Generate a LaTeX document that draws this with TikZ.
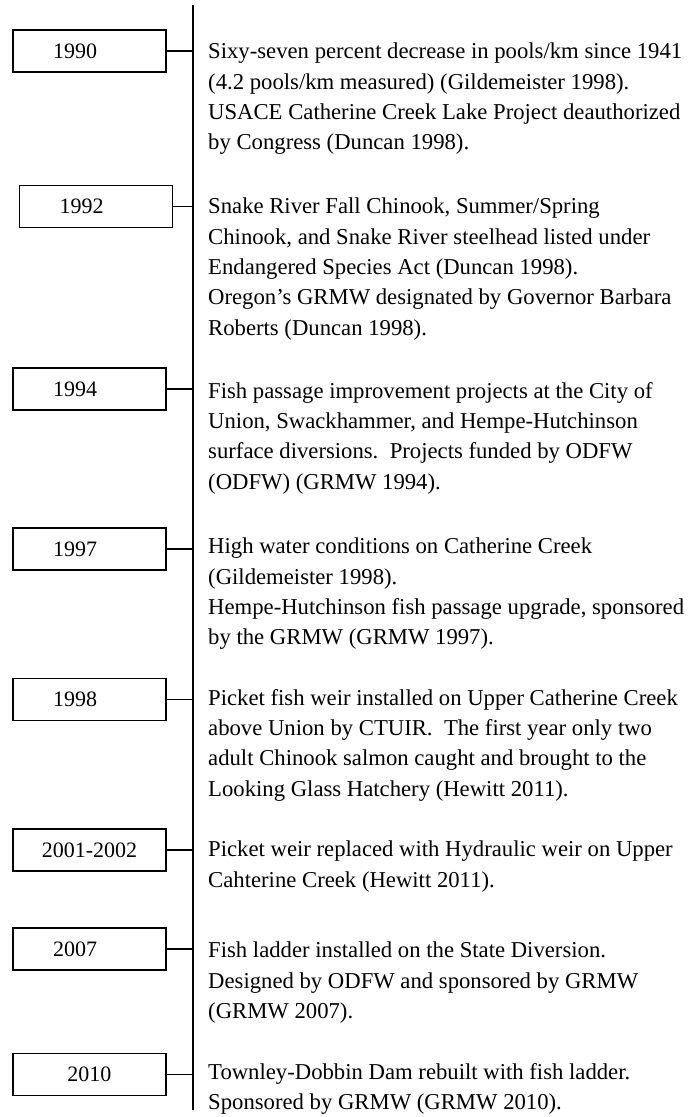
\documentclass[tikz,border=0pt]{standalone}
\usepackage{fontspec}
\setmainfont{Liberation Serif}
\tikzset{
  yearbox/.style={draw, line width=1.4pt, minimum height=42pt, text width=73pt,
    inner xsep=40pt, inner ysep=0pt, align=left, font=\fontsize{22}{24}\selectfont},
  widebox/.style={yearbox, text width=133pt, inner xsep=10pt, align=center},
  event/.style={anchor=north west, inner sep=0pt, align=left,
    font=\fontsize{22.7}{30.3}\selectfont},
  tick/.style={line width=1.4pt}
}

\begin{document}
\begin{tikzpicture}[x=1pt, y=-1pt]
\useasboundingbox (0,0) rectangle (694,1117);
\coordinate (top) at (193,5);
\coordinate (bot) at (193,1110);
\draw[tick] (top) -- (bot);

\node[yearbox] (y1990) at (89.5,51) {1990};
\node[yearbox] (y1992) at (96,206.5) {1992};
\node[yearbox] (y1994) at (89.5,389) {1994};
\node[yearbox] (y1997) at (89.5,549) {1997};
\node[yearbox] (y1998) at (89.5,699.5) {1998};
\node[widebox] (y2001) at (89.5,850) {2001-2002};
\node[yearbox] (y2007) at (89.5,949) {2007};
\node[widebox] (y2010) at (89.5,1074.5) {2010};

\draw[tick] (y1990.east) -- (y1990.east -| top);
\draw[tick] (y1992.east) -- (y1992.east -| top);
\draw[tick] (y1994.east) -- (y1994.east -| top);
\draw[tick] (y1997.east) -- (y1997.east -| top);
\draw[tick] (y1998.east) -- (y1998.east -| top);
\draw[tick] (y2001.east) -- (y2001.east -| top);
\draw[tick] (y2007.east) -- (y2007.east -| top);
\draw[tick] (y2010.east) -- (y2010.east -| top);

\node[event] (e1990) at (208,43) {Sixy-seven percent decrease in pools/km since 1941\\
(4.2 pools/km measured) (Gildemeister 1998).\\
USACE Catherine Creek Lake Project deauthorized\\
by Congress (Duncan 1998).};
\node[event] (e1992) at (208,198) {Snake River Fall Chinook, Summer/Spring\\
Chinook, and Snake River steelhead listed under\\
Endangered Species Act (Duncan 1998).\\
Oregon’s GRMW designated by Governor Barbara\\
Roberts (Duncan 1998).};
\node[event] (e1994) at (208,382) {Fish passage improvement projects at the City of\\
Union, Swackhammer, and Hempe-Hutchinson\\
surface diversions.\ \ Projects funded by ODFW\\
(ODFW) (GRMW 1994).};
\node[event] (e1997) at (208,538) {High water conditions on Catherine Creek\\
(Gildemeister 1998).\\
Hempe-Hutchinson fish passage upgrade, sponsored\\
by the GRMW (GRMW 1997).};
\node[event] (e1998) at (208,689) {Picket fish weir installed on Upper Catherine Creek\\
above Union by CTUIR.\ \ The first year only two\\
adult Chinook salmon caught and brought to the\\
Looking Glass Hatchery (Hewitt 2011).};
\node[event] (e2001) at (208,841) {Picket weir replaced with Hydraulic weir on Upper\\
Cahterine Creek (Hewitt 2011).};
\node[event] (e2007) at (208,942) {Fish ladder installed on the State Diversion.\\
Designed by ODFW and sponsored by GRMW\\
(GRMW 2007).};
\node[event] (e2010) at (208,1063) {Townley-Dobbin Dam rebuilt with fish ladder.\\
Sponsored by GRMW (GRMW 2010).};
\end{tikzpicture}
\end{document}
